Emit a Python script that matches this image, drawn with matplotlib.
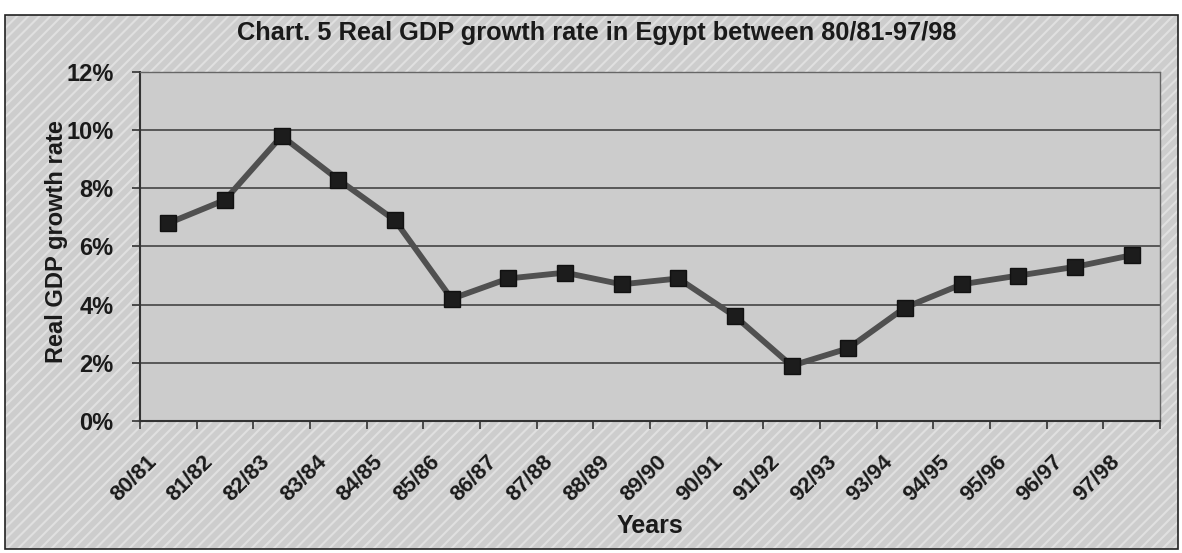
import matplotlib
matplotlib.use("Agg")
import matplotlib.pyplot as plt
import matplotlib.patches as mpatches
import matplotlib.transforms as mtransforms
import numpy as np

# Real GDP growth rate, Egypt, fiscal years 80/81 - 97/98 (%)
years = ['80/81', '81/82', '82/83', '83/84', '84/85', '85/86', '86/87', '87/88', '88/89',
         '89/90', '90/91', '91/92', '92/93', '93/94', '94/95', '95/96', '96/97', '97/98']
growth = [6.8, 7.6, 9.8, 8.3, 6.9, 4.2, 4.9, 5.1, 4.7,
          4.9, 3.6, 1.9, 2.5, 3.9, 4.7, 5.0, 5.3, 5.7]
yticks = [0, 2, 4, 6, 8, 10, 12]

plt.rcParams['font.family'] = ['Liberation Sans', 'DejaVu Sans']
plt.rcParams['hatch.linewidth'] = 1.5
txt = '#1a1a1a'
fs = 17

fig = plt.figure(figsize=(11.82, 5.53), dpi=100)
fig.patch.set_facecolor('white')

# hatched chart area with a thin frame
frame = [0.0042, 0.0072, 0.9924, 0.9656]
fig.patches.append(mpatches.Rectangle(frame[:2], frame[2], frame[3], transform=fig.transFigure,
                                      facecolor='#cdcdcd', edgecolor='none', zorder=-3))
fig.patches.append(mpatches.Rectangle(frame[:2], frame[2], frame[3], transform=fig.transFigure,
                                      facecolor='none', edgecolor='#e0e0e0', hatch='///', lw=0, zorder=-2))
fig.patches.append(mpatches.Rectangle(frame[:2], frame[2], frame[3], transform=fig.transFigure,
                                      facecolor='none', edgecolor='#222222', lw=1.2, zorder=-1))

ax = fig.add_axes([0.1184, 0.2387, 0.8630, 0.6311])
ax.set_facecolor('#cccccc')

x = np.arange(len(years))
ax.plot(x, growth, color='#505050', lw=4.2, marker='s', markersize=12,
        markerfacecolor='#1c1c1c', markeredgecolor='#111111', zorder=3)

ax.set_xlim(-0.5, len(years) - 0.5)
ax.set_ylim(0, 12)
ax.set_yticks(yticks)
ax.set_yticklabels([f'{v}%' for v in yticks])
ax.grid(axis='y', color='#383838', lw=1.1)
ax.set_axisbelow(True)

# category ticks sit between the points, names drawn slanted under each point
ax.set_xticks(np.arange(len(years) + 1) - 0.5)
ax.set_xticklabels([])
ax.tick_params(axis='x', length=6, width=1.2, color='#333333', direction='out')
lab_tr = ax.get_xaxis_transform() + mtransforms.ScaledTranslation(-15 / 100, -38 / 100,
                                                                   fig.dpi_scale_trans)
for i, name in enumerate(years):
    ax.text(i, 0, name, transform=lab_tr, rotation=45, rotation_mode='anchor',
            ha='right', va='center', fontsize=16, fontweight='bold', color=txt, clip_on=False)

ax.tick_params(axis='y', length=6, width=1.2, color='#333333', labelsize=fs, pad=13,
               labelcolor=txt)
for lab in ax.get_yticklabels():
    lab.set_fontweight('bold')

for side in ['left', 'bottom']:
    ax.spines[side].set_color('#333333')
    ax.spines[side].set_linewidth(1.5)
for side in ['right', 'top']:
    ax.spines[side].set_color('#666666')
    ax.spines[side].set_linewidth(1.0)

fig.text(0.505, 0.940, 'Chart. 5 Real GDP growth rate in Egypt between 80/81-97/98',
         ha='center', va='center', fontsize=18.3, fontweight='bold', color=txt)
fig.text(0.048, 0.564, 'Real GDP growth rate', rotation=90, ha='center', va='center',
         fontsize=fs, fontweight='bold', color=txt)
fig.text(0.550, 0.049, 'Years', ha='center', va='center',
         fontsize=fs + 1, fontweight='bold', color=txt)

fig.savefig('out.png', dpi=100)
